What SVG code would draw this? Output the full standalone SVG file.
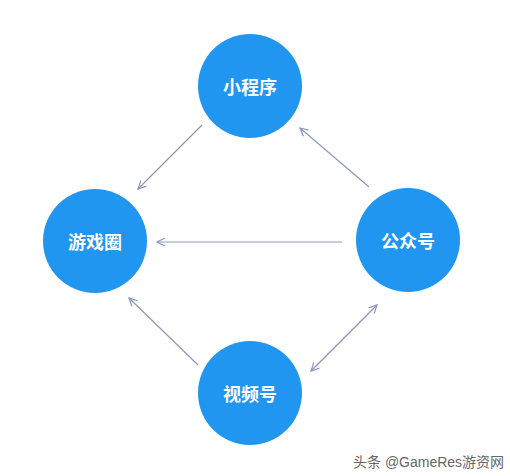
<svg xmlns="http://www.w3.org/2000/svg" width="510" height="476" viewBox="0 0 510 476">
<style>
.node circle{fill:#2196F0;}
.node text{fill:#fff;font-family:"Noto Sans CJK SC","Noto Sans",sans-serif;font-weight:bold;font-size:18px;text-anchor:middle;dominant-baseline:central;}
.edge{stroke:#8D97BC;stroke-width:1.2;fill:none;}
.wm{fill:#666;font-family:"Liberation Sans","Noto Sans CJK SC",sans-serif;font-size:14px;}
</style>
<defs>
<marker id="ah" viewBox="0 0 10 10" refX="9" refY="5" markerWidth="10" markerHeight="10" markerUnits="userSpaceOnUse" orient="auto-start-reverse">
<path d="M1,1 L9,5 L1,9" fill="none" stroke="#8D97BC" stroke-width="1.2"/>
</marker>
</defs>
<rect width="510" height="476" fill="#fff"/>
<g id="connectors">
<line class="edge" x1="202" y1="125" x2="138" y2="189" marker-end="url(#ah)"/>
<line class="edge" x1="369" y1="187" x2="300" y2="128" marker-end="url(#ah)"/>
<line class="edge" x1="342" y1="242" x2="157" y2="242" marker-end="url(#ah)"/>
<line class="edge" x1="198" y1="365" x2="129" y2="298" marker-end="url(#ah)"/>
<line class="edge" x1="311" y1="371" x2="377" y2="305" marker-start="url(#ah)" marker-end="url(#ah)"/>
</g>
<g id="node-xiaochengxu" class="node"><circle cx="250" cy="86" r="52"/><text x="250" y="86">小程序</text></g>
<g id="node-youxiquan" class="node"><circle cx="95" cy="241" r="52"/><text x="95" y="241">游戏圈</text></g>
<g id="node-gongzhonghao" class="node"><circle cx="408" cy="240" r="52"/><text x="408" y="240">公众号</text></g>
<g id="node-shipinhao" class="node"><circle cx="250" cy="393" r="52"/><text x="250" y="393">视频号</text></g>
<text class="wm" x="353" y="467">头条 @GameRes游资网</text>
</svg>
